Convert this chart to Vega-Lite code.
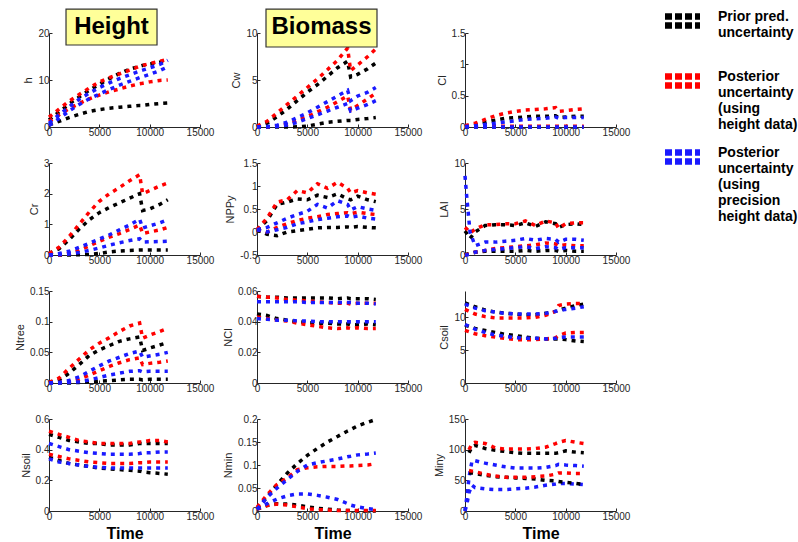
{
"$schema":"https://vega.github.io/schema/vega-lite/v6.json",
"padding":{"left":14,"top":1,"right":5,"bottom":5},
"background":"white",
"datasets":{"series":[{"key":"ku","s":"A"},{"key":"kl","s":"A"},{"key":"ru","s":"B"},{"key":"rl","s":"B"},{"key":"bu","s":"C"},{"key":"bl","s":"C"}]},
"data":{"values":[
{"p":"h","t":0,"ku":1.5,"kl":0.4,"ru":2.1,"rl":1.2,"bu":0.8,"bl":0.3},
{"p":"h","t":1000,"ku":3.2,"kl":1.2,"ru":3.8,"rl":2.6,"bu":2.6,"bl":1.8},
{"p":"h","t":2000,"ku":4.9,"kl":2.0,"ru":5.5,"rl":3.9,"bu":4.3,"bl":3.4},
{"p":"h","t":3000,"ku":6.4,"kl":2.7,"ru":6.9,"rl":5.0,"bu":5.9,"bl":4.8},
{"p":"h","t":4000,"ku":7.8,"kl":3.3,"ru":8.3,"rl":6.0,"bu":7.2,"bl":6.0},
{"p":"h","t":5000,"ku":9.1,"kl":3.7,"ru":9.6,"rl":6.8,"bu":8.4,"bl":7.0},
{"p":"h","t":6000,"ku":10.3,"kl":4.0,"ru":10.5,"rl":7.5,"bu":9.4,"bl":8.0},
{"p":"h","t":7000,"ku":11.4,"kl":4.2,"ru":11.3,"rl":8.1,"bu":10.3,"bl":8.9},
{"p":"h","t":8000,"ku":12.3,"kl":4.4,"ru":12.1,"rl":8.7,"bu":11.1,"bl":9.7},
{"p":"h","t":9000,"ku":12.9,"kl":4.6,"ru":12.9,"rl":9.2,"bu":11.9,"bl":10.5},
{"p":"h","t":9300,"ku":13.1,"kl":4.6,"ru":13.1,"rl":9.3,"bu":12.1,"bl":10.7},
{"p":"h","t":10000,"ku":13.4,"kl":4.8,"ru":13.5,"rl":9.6,"bu":12.6,"bl":11.2},
{"p":"h","t":11000,"ku":13.8,"kl":5.0,"ru":14.0,"rl":9.9,"bu":13.3,"bl":12.0},
{"p":"h","t":11800,"ku":14.1,"kl":5.1,"ru":14.4,"rl":10.0,"bu":14.2,"bl":12.8},
{"p":"Cw","t":0,"ku":0,"kl":0,"ru":0.1,"rl":0,"bu":0,"bl":0},
{"p":"Cw","t":1000,"ku":0.4,"kl":0,"ru":0.6,"rl":0,"bu":0.05,"bl":0},
{"p":"Cw","t":2000,"ku":1.1,"kl":0,"ru":1.5,"rl":0.1,"bu":0.2,"bl":0.05},
{"p":"Cw","t":3000,"ku":1.9,"kl":0,"ru":2.4,"rl":0.3,"bu":0.5,"bl":0.2},
{"p":"Cw","t":4000,"ku":2.8,"kl":0.02,"ru":3.3,"rl":0.7,"bu":1.0,"bl":0.5},
{"p":"Cw","t":5000,"ku":3.7,"kl":0.1,"ru":4.2,"rl":1.1,"bu":1.5,"bl":0.9},
{"p":"Cw","t":6000,"ku":4.5,"kl":0.3,"ru":5.1,"rl":1.6,"bu":2.1,"bl":1.3},
{"p":"Cw","t":7000,"ku":5.4,"kl":0.5,"ru":6.1,"rl":2.1,"bu":2.7,"bl":1.7},
{"p":"Cw","t":8000,"ku":6.3,"kl":0.6,"ru":7.1,"rl":2.7,"bu":3.3,"bl":2.1},
{"p":"Cw","t":9000,"ku":7.0,"kl":0.7,"ru":8.4,"rl":3.3,"bu":3.9,"bl":2.5},
{"p":"Cw","t":9300,"ku":5.3,"kl":0.7,"ru":6.0,"rl":1.8,"bu":2.8,"bl":1.7},
{"p":"Cw","t":10000,"ku":5.6,"kl":0.8,"ru":6.6,"rl":2.3,"bu":3.3,"bl":2.0},
{"p":"Cw","t":11000,"ku":6.2,"kl":0.9,"ru":7.5,"rl":3.0,"bu":3.7,"bl":2.4},
{"p":"Cw","t":11800,"ku":6.8,"kl":1.0,"ru":8.3,"rl":3.6,"bu":4.2,"bl":2.8},
{"p":"Cl","t":0,"ku":0.01,"kl":0,"ru":0.02,"rl":0.01,"bu":0.01,"bl":0},
{"p":"Cl","t":1000,"ku":0.03,"kl":0,"ru":0.06,"rl":0.01,"bu":0.02,"bl":0},
{"p":"Cl","t":2000,"ku":0.07,"kl":0,"ru":0.12,"rl":0.01,"bu":0.04,"bl":0},
{"p":"Cl","t":3000,"ku":0.11,"kl":0,"ru":0.18,"rl":0.01,"bu":0.06,"bl":0},
{"p":"Cl","t":4000,"ku":0.14,"kl":0,"ru":0.22,"rl":0.01,"bu":0.08,"bl":0},
{"p":"Cl","t":5000,"ku":0.15,"kl":0,"ru":0.25,"rl":0.01,"bu":0.1,"bl":0},
{"p":"Cl","t":6000,"ku":0.16,"kl":0,"ru":0.27,"rl":0.01,"bu":0.12,"bl":0},
{"p":"Cl","t":7000,"ku":0.17,"kl":0,"ru":0.28,"rl":0.01,"bu":0.13,"bl":0},
{"p":"Cl","t":8000,"ku":0.17,"kl":0,"ru":0.29,"rl":0.01,"bu":0.14,"bl":0},
{"p":"Cl","t":9000,"ku":0.18,"kl":0,"ru":0.31,"rl":0.01,"bu":0.16,"bl":0},
{"p":"Cl","t":9300,"ku":0.15,"kl":0,"ru":0.25,"rl":0.01,"bu":0.14,"bl":0},
{"p":"Cl","t":10000,"ku":0.16,"kl":0,"ru":0.26,"rl":0.01,"bu":0.15,"bl":0},
{"p":"Cl","t":11000,"ku":0.17,"kl":0,"ru":0.28,"rl":0.01,"bu":0.15,"bl":0},
{"p":"Cl","t":11800,"ku":0.17,"kl":0,"ru":0.29,"rl":0.01,"bu":0.15,"bl":0},
{"p":"Cr","t":0,"ku":0.05,"kl":0,"ru":0.05,"rl":0,"bu":0,"bl":0},
{"p":"Cr","t":1000,"ku":0.2,"kl":0,"ru":0.25,"rl":0,"bu":0.05,"bl":0.01},
{"p":"Cr","t":2000,"ku":0.5,"kl":0,"ru":0.6,"rl":0.05,"bu":0.12,"bl":0.03},
{"p":"Cr","t":3000,"ku":0.85,"kl":0.01,"ru":1.0,"rl":0.15,"bu":0.25,"bl":0.08},
{"p":"Cr","t":4000,"ku":1.15,"kl":0.02,"ru":1.4,"rl":0.3,"bu":0.38,"bl":0.15},
{"p":"Cr","t":5000,"ku":1.38,"kl":0.05,"ru":1.75,"rl":0.45,"bu":0.52,"bl":0.23},
{"p":"Cr","t":6000,"ku":1.55,"kl":0.1,"ru":2.0,"rl":0.58,"bu":0.66,"bl":0.32},
{"p":"Cr","t":7000,"ku":1.7,"kl":0.13,"ru":2.2,"rl":0.7,"bu":0.82,"bl":0.4},
{"p":"Cr","t":8000,"ku":1.85,"kl":0.15,"ru":2.42,"rl":0.83,"bu":0.98,"bl":0.47},
{"p":"Cr","t":9000,"ku":2.0,"kl":0.16,"ru":2.62,"rl":0.98,"bu":1.17,"bl":0.53},
{"p":"Cr","t":9300,"ku":1.45,"kl":0.16,"ru":2.0,"rl":0.7,"bu":0.88,"bl":0.42},
{"p":"Cr","t":10000,"ku":1.5,"kl":0.16,"ru":2.1,"rl":0.75,"bu":0.95,"bl":0.43},
{"p":"Cr","t":11000,"ku":1.65,"kl":0.16,"ru":2.25,"rl":0.82,"bu":1.05,"bl":0.44},
{"p":"Cr","t":11800,"ku":1.8,"kl":0.16,"ru":2.35,"rl":0.9,"bu":1.15,"bl":0.45},
{"p":"NPPy","t":0,"ku":0.05,"kl":0.05,"ru":0.05,"rl":0.05,"bu":0.05,"bl":0.05},
{"p":"NPPy","t":1000,"ku":0.25,"kl":-0.05,"ru":0.3,"rl":0.0,"bu":0.1,"bl":0.0},
{"p":"NPPy","t":2000,"ku":0.6,"kl":-0.08,"ru":0.65,"rl":0.1,"bu":0.2,"bl":0.05},
{"p":"NPPy","t":3000,"ku":0.65,"kl":0.0,"ru":0.7,"rl":0.18,"bu":0.3,"bl":0.1},
{"p":"NPPy","t":4000,"ku":0.72,"kl":0.03,"ru":0.9,"rl":0.25,"bu":0.38,"bl":0.18},
{"p":"NPPy","t":5000,"ku":0.7,"kl":0.06,"ru":0.85,"rl":0.3,"bu":0.45,"bl":0.22},
{"p":"NPPy","t":6000,"ku":0.8,"kl":0.09,"ru":1.05,"rl":0.33,"bu":0.6,"bl":0.27},
{"p":"NPPy","t":7000,"ku":0.75,"kl":0.1,"ru":0.95,"rl":0.38,"bu":0.52,"bl":0.3},
{"p":"NPPy","t":8000,"ku":0.83,"kl":0.1,"ru":1.08,"rl":0.4,"bu":0.68,"bl":0.33},
{"p":"NPPy","t":9000,"ku":0.72,"kl":0.11,"ru":0.95,"rl":0.42,"bu":0.6,"bl":0.35},
{"p":"NPPy","t":9300,"ku":0.7,"kl":0.1,"ru":0.85,"rl":0.4,"bu":0.48,"bl":0.32},
{"p":"NPPy","t":10000,"ku":0.78,"kl":0.12,"ru":0.9,"rl":0.43,"bu":0.55,"bl":0.35},
{"p":"NPPy","t":11000,"ku":0.7,"kl":0.1,"ru":0.85,"rl":0.4,"bu":0.5,"bl":0.3},
{"p":"NPPy","t":11800,"ku":0.66,"kl":0.09,"ru":0.82,"rl":0.38,"bu":0.47,"bl":0.28},
{"p":"LAI","t":0,"ku":2.6,"kl":0,"ru":3.0,"rl":0,"bu":8.6,"bl":0},
{"p":"LAI","t":200,"ku":2.3,"kl":0.1,"ru":2.8,"rl":0.05,"bu":6.0,"bl":0},
{"p":"LAI","t":500,"ku":1.8,"kl":0.2,"ru":2.4,"rl":0.1,"bu":2.5,"bl":0.1},
{"p":"LAI","t":1000,"ku":2.5,"kl":0.3,"ru":2.8,"rl":0.3,"bu":1.0,"bl":0.3},
{"p":"LAI","t":2000,"ku":3.2,"kl":0.4,"ru":3.3,"rl":0.5,"bu":1.4,"bl":0.5},
{"p":"LAI","t":3000,"ku":3.3,"kl":0.4,"ru":3.3,"rl":0.7,"bu":1.4,"bl":0.6},
{"p":"LAI","t":4000,"ku":3.3,"kl":0.4,"ru":3.4,"rl":0.8,"bu":1.5,"bl":0.7},
{"p":"LAI","t":5000,"ku":3.2,"kl":0.4,"ru":3.4,"rl":0.9,"bu":1.6,"bl":0.8},
{"p":"LAI","t":6000,"ku":3.5,"kl":0.5,"ru":3.7,"rl":1.0,"bu":1.8,"bl":0.9},
{"p":"LAI","t":7000,"ku":3.1,"kl":0.4,"ru":3.2,"rl":1.1,"bu":1.6,"bl":0.7},
{"p":"LAI","t":8000,"ku":3.6,"kl":0.5,"ru":3.7,"rl":1.3,"bu":1.8,"bl":0.9},
{"p":"LAI","t":9000,"ku":3.4,"kl":0.5,"ru":3.5,"rl":1.2,"bu":1.7,"bl":0.8},
{"p":"LAI","t":9300,"ku":3.0,"kl":0.4,"ru":2.9,"rl":1.0,"bu":1.4,"bl":0.6},
{"p":"LAI","t":10000,"ku":3.3,"kl":0.5,"ru":3.4,"rl":1.1,"bu":1.7,"bl":0.8},
{"p":"LAI","t":11000,"ku":3.4,"kl":0.4,"ru":3.5,"rl":1.0,"bu":1.7,"bl":0.8},
{"p":"LAI","t":11800,"ku":3.3,"kl":0.4,"ru":3.5,"rl":1.0,"bu":1.6,"bl":0.8},
{"p":"Ntree","t":0,"ku":0.001,"kl":0,"ru":0.001,"rl":0,"bu":0,"bl":0},
{"p":"Ntree","t":1000,"ku":0.005,"kl":0,"ru":0.008,"rl":0.001,"bu":0.001,"bl":0},
{"p":"Ntree","t":2000,"ku":0.016,"kl":0,"ru":0.024,"rl":0.002,"bu":0.004,"bl":0.001},
{"p":"Ntree","t":3000,"ku":0.03,"kl":0.001,"ru":0.039,"rl":0.006,"bu":0.01,"bl":0.002},
{"p":"Ntree","t":4000,"ku":0.045,"kl":0.002,"ru":0.054,"rl":0.013,"bu":0.019,"bl":0.005},
{"p":"Ntree","t":5000,"ku":0.054,"kl":0.003,"ru":0.065,"rl":0.02,"bu":0.028,"bl":0.009},
{"p":"Ntree","t":6000,"ku":0.061,"kl":0.004,"ru":0.074,"rl":0.027,"bu":0.036,"bl":0.013},
{"p":"Ntree","t":7000,"ku":0.068,"kl":0.005,"ru":0.084,"rl":0.033,"bu":0.042,"bl":0.016},
{"p":"Ntree","t":8000,"ku":0.072,"kl":0.006,"ru":0.093,"rl":0.038,"bu":0.048,"bl":0.019},
{"p":"Ntree","t":9000,"ku":0.075,"kl":0.006,"ru":0.098,"rl":0.041,"bu":0.052,"bl":0.02},
{"p":"Ntree","t":9300,"ku":0.053,"kl":0.005,"ru":0.073,"rl":0.03,"bu":0.042,"bl":0.018},
{"p":"Ntree","t":10000,"ku":0.057,"kl":0.006,"ru":0.078,"rl":0.032,"bu":0.044,"bl":0.019},
{"p":"Ntree","t":11000,"ku":0.062,"kl":0.006,"ru":0.084,"rl":0.034,"bu":0.047,"bl":0.019},
{"p":"Ntree","t":11800,"ku":0.066,"kl":0.006,"ru":0.089,"rl":0.036,"bu":0.05,"bl":0.019},
{"p":"NCl","t":0,"ku":0.0565,"kl":0.045,"ru":0.0565,"rl":0.043,"bu":0.053,"bl":0.042},
{"p":"NCl","t":1000,"ku":0.056,"kl":0.044,"ru":0.056,"rl":0.042,"bu":0.053,"bl":0.0415},
{"p":"NCl","t":2000,"ku":0.056,"kl":0.042,"ru":0.0555,"rl":0.041,"bu":0.053,"bl":0.041},
{"p":"NCl","t":3000,"ku":0.0555,"kl":0.041,"ru":0.0545,"rl":0.0405,"bu":0.053,"bl":0.041},
{"p":"NCl","t":4000,"ku":0.0555,"kl":0.040,"ru":0.054,"rl":0.039,"bu":0.053,"bl":0.0405},
{"p":"NCl","t":5000,"ku":0.0555,"kl":0.0395,"ru":0.0535,"rl":0.038,"bu":0.0525,"bl":0.0405},
{"p":"NCl","t":6000,"ku":0.0555,"kl":0.039,"ru":0.053,"rl":0.037,"bu":0.0525,"bl":0.040},
{"p":"NCl","t":7000,"ku":0.0555,"kl":0.039,"ru":0.0525,"rl":0.036,"bu":0.0525,"bl":0.040},
{"p":"NCl","t":8000,"ku":0.055,"kl":0.0385,"ru":0.052,"rl":0.0355,"bu":0.0525,"bl":0.040},
{"p":"NCl","t":9000,"ku":0.0555,"kl":0.0385,"ru":0.052,"rl":0.036,"bu":0.0525,"bl":0.040},
{"p":"NCl","t":9300,"ku":0.055,"kl":0.038,"ru":0.0515,"rl":0.0355,"bu":0.0525,"bl":0.040},
{"p":"NCl","t":10000,"ku":0.055,"kl":0.038,"ru":0.052,"rl":0.036,"bu":0.052,"bl":0.040},
{"p":"NCl","t":11000,"ku":0.055,"kl":0.0385,"ru":0.052,"rl":0.0355,"bu":0.052,"bl":0.040},
{"p":"NCl","t":11800,"ku":0.0545,"kl":0.038,"ru":0.052,"rl":0.0355,"bu":0.0515,"bl":0.040},
{"p":"Csoil","t":0,"ku":12.2,"kl":8.8,"ru":11.2,"rl":8.0,"bu":12.0,"bl":8.9},
{"p":"Csoil","t":1000,"ku":11.6,"kl":8.3,"ru":10.5,"rl":7.5,"bu":11.4,"bl":8.2},
{"p":"Csoil","t":2000,"ku":11.1,"kl":8.0,"ru":10.1,"rl":7.2,"bu":11.0,"bl":7.7},
{"p":"Csoil","t":3000,"ku":10.8,"kl":7.7,"ru":9.9,"rl":7.0,"bu":10.8,"bl":7.3},
{"p":"Csoil","t":4000,"ku":10.6,"kl":7.4,"ru":9.9,"rl":6.8,"bu":10.6,"bl":7.1},
{"p":"Csoil","t":5000,"ku":10.5,"kl":7.2,"ru":9.9,"rl":6.6,"bu":10.5,"bl":6.9},
{"p":"Csoil","t":6000,"ku":10.4,"kl":7.0,"ru":9.9,"rl":6.6,"bu":10.5,"bl":6.8},
{"p":"Csoil","t":7000,"ku":10.4,"kl":6.8,"ru":10.0,"rl":6.6,"bu":10.5,"bl":6.8},
{"p":"Csoil","t":8000,"ku":10.6,"kl":6.7,"ru":10.3,"rl":6.7,"bu":10.6,"bl":6.7},
{"p":"Csoil","t":9000,"ku":10.9,"kl":6.7,"ru":10.9,"rl":6.9,"bu":10.9,"bl":6.8},
{"p":"Csoil","t":9300,"ku":11.1,"kl":6.7,"ru":11.8,"rl":7.2,"bu":11.0,"bl":6.9},
{"p":"Csoil","t":10000,"ku":11.4,"kl":6.6,"ru":12.0,"rl":7.6,"bu":11.2,"bl":7.0},
{"p":"Csoil","t":11000,"ku":11.8,"kl":6.4,"ru":12.1,"rl":7.7,"bu":11.4,"bl":7.0},
{"p":"Csoil","t":11800,"ku":12.0,"kl":6.3,"ru":12.1,"rl":7.7,"bu":11.6,"bl":7.0},
{"p":"Nsoil","t":0,"ku":0.50,"kl":0.35,"ru":0.52,"rl":0.37,"bu":0.44,"bl":0.34},
{"p":"Nsoil","t":1000,"ku":0.48,"kl":0.33,"ru":0.50,"rl":0.355,"bu":0.42,"bl":0.32},
{"p":"Nsoil","t":2000,"ku":0.46,"kl":0.31,"ru":0.48,"rl":0.34,"bu":0.40,"bl":0.31},
{"p":"Nsoil","t":3000,"ku":0.45,"kl":0.30,"ru":0.46,"rl":0.33,"bu":0.39,"bl":0.30},
{"p":"Nsoil","t":4000,"ku":0.44,"kl":0.29,"ru":0.45,"rl":0.32,"bu":0.38,"bl":0.29},
{"p":"Nsoil","t":5000,"ku":0.44,"kl":0.28,"ru":0.44,"rl":0.315,"bu":0.375,"bl":0.285},
{"p":"Nsoil","t":6000,"ku":0.43,"kl":0.275,"ru":0.44,"rl":0.31,"bu":0.37,"bl":0.28},
{"p":"Nsoil","t":7000,"ku":0.43,"kl":0.27,"ru":0.44,"rl":0.31,"bu":0.37,"bl":0.28},
{"p":"Nsoil","t":8000,"ku":0.43,"kl":0.265,"ru":0.44,"rl":0.31,"bu":0.37,"bl":0.28},
{"p":"Nsoil","t":9000,"ku":0.44,"kl":0.26,"ru":0.45,"rl":0.315,"bu":0.375,"bl":0.28},
{"p":"Nsoil","t":9300,"ku":0.44,"kl":0.255,"ru":0.45,"rl":0.315,"bu":0.38,"bl":0.28},
{"p":"Nsoil","t":10000,"ku":0.44,"kl":0.25,"ru":0.46,"rl":0.32,"bu":0.38,"bl":0.28},
{"p":"Nsoil","t":11000,"ku":0.44,"kl":0.245,"ru":0.46,"rl":0.32,"bu":0.385,"bl":0.28},
{"p":"Nsoil","t":11800,"ku":0.44,"kl":0.24,"ru":0.45,"rl":0.32,"bu":0.385,"bl":0.28},
{"p":"Nmin","t":0,"ku":0.005,"kl":0.004,"ru":0.008,"rl":0.004,"bu":0.004,"bl":0.004},
{"p":"Nmin","t":1000,"ku":0.03,"kl":0.012,"ru":0.035,"rl":0.012,"bu":0.03,"bl":0.016},
{"p":"Nmin","t":2000,"ku":0.058,"kl":0.016,"ru":0.058,"rl":0.015,"bu":0.05,"bl":0.026},
{"p":"Nmin","t":3000,"ku":0.082,"kl":0.015,"ru":0.072,"rl":0.013,"bu":0.068,"bl":0.033},
{"p":"Nmin","t":4000,"ku":0.103,"kl":0.013,"ru":0.09,"rl":0.009,"bu":0.086,"bl":0.037},
{"p":"Nmin","t":5000,"ku":0.121,"kl":0.009,"ru":0.094,"rl":0.005,"bu":0.1,"bl":0.037},
{"p":"Nmin","t":6000,"ku":0.136,"kl":0.006,"ru":0.096,"rl":0.003,"bu":0.105,"bl":0.034},
{"p":"Nmin","t":7000,"ku":0.15,"kl":0.004,"ru":0.097,"rl":0.002,"bu":0.109,"bl":0.03},
{"p":"Nmin","t":8000,"ku":0.162,"kl":0.002,"ru":0.097,"rl":0.001,"bu":0.113,"bl":0.025},
{"p":"Nmin","t":9000,"ku":0.174,"kl":0.001,"ru":0.098,"rl":0.001,"bu":0.118,"bl":0.016},
{"p":"Nmin","t":9300,"ku":0.177,"kl":0.001,"ru":0.098,"rl":0.001,"bu":0.119,"bl":0.013},
{"p":"Nmin","t":10000,"ku":0.185,"kl":0,"ru":0.099,"rl":0.001,"bu":0.122,"bl":0.009},
{"p":"Nmin","t":11000,"ku":0.193,"kl":0,"ru":0.1,"rl":0.001,"bu":0.124,"bl":0.005},
{"p":"Nmin","t":11800,"ku":0.199,"kl":0,"ru":0.103,"rl":0.001,"bu":0.126,"bl":0.003},
{"p":"Miny","t":0,"bu":0,"bl":0},
{"p":"Miny","t":200,"bu":25,"bl":12},
{"p":"Miny","t":400,"ku":95,"kl":62,"ru":100,"rl":66,"bu":55,"bl":30},
{"p":"Miny","t":700,"ku":105,"kl":62,"ru":110,"rl":65,"bu":82,"bl":42},
{"p":"Miny","t":1000,"ku":107,"kl":61,"ru":112,"rl":64,"bu":82,"bl":38},
{"p":"Miny","t":2000,"ku":102,"kl":58,"ru":110,"rl":60,"bu":78,"bl":36},
{"p":"Miny","t":3000,"ku":99,"kl":56,"ru":103,"rl":57,"bu":75,"bl":35},
{"p":"Miny","t":4000,"ku":97,"kl":55,"ru":101,"rl":55,"bu":72,"bl":35},
{"p":"Miny","t":5000,"ku":95,"kl":54,"ru":101,"rl":55,"bu":70,"bl":36},
{"p":"Miny","t":6000,"ku":94,"kl":53,"ru":101,"rl":55,"bu":70,"bl":37},
{"p":"Miny","t":7000,"ku":94,"kl":52,"ru":102,"rl":56,"bu":70,"bl":39},
{"p":"Miny","t":8000,"ku":94,"kl":50,"ru":104,"rl":57,"bu":71,"bl":42},
{"p":"Miny","t":9000,"ku":94,"kl":49,"ru":110,"rl":60,"bu":74,"bl":44},
{"p":"Miny","t":9300,"ku":95,"kl":48,"ru":112,"rl":62,"bu":76,"bl":45},
{"p":"Miny","t":10000,"ku":98,"kl":47,"ru":115,"rl":62,"bu":75,"bl":45},
{"p":"Miny","t":11000,"ku":96,"kl":45,"ru":112,"rl":61,"bu":74,"bl":44},
{"p":"Miny","t":11800,"ku":95,"kl":43,"ru":110,"rl":61,"bu":73,"bl":43}
]},
"columns":3,
"spacing":{"row":36,"column":57},
"bounds":"flush",
"concat":[
{"width":151,"height":94,"layer":[
 {"transform":[{"filter":"datum.p=='h'"},{"fold":["ku","kl","ru","rl","bu","bl"]},{"filter":"isValid(datum.value)"},{"lookup":"key","from":{"data":{"name":"series"},"key":"key","fields":["s"]}}],
  "mark":{"type":"line","strokeWidth":3.5,"strokeDash":[4,5]},
  "encoding":{"x":{"field":"t","type":"quantitative","scale":{"domain":[0,15000],"nice":false},"axis":{"values":[0,5000,10000,15000],"format":"d","title":null}},
   "y":{"field":"value","type":"quantitative","scale":{"domain":[0,20],"nice":false},"axis":{"values":[0,5,10,15,20],"format":"~f","title":"h"}},
   "color":{"field":"s","type":"nominal","scale":{"domain":["A","B","C"],"range":["#000000","#ff0000","#1a1aff"]},
     "legend":{"title":null,"orient":"none","legendX":625,"legendY":-32,"labelExpr":"datum.value == 'A' ? ['Prior pred.', 'uncertainty', ''] : datum.value == 'B' ? ['Posterior', 'uncertainty', '(using', 'height data)'] : ['Posterior', 'uncertainty', '(using', 'precision', 'height data)']"}},
   "detail":{"field":"key"}}},
 {"data":{"values":[{}]},"mark":{"type":"rect","fill":"#ffff99","stroke":"#333333","strokeWidth":1.2},
  "encoding":{"x":{"datum":1690,"type":"quantitative"},"x2":{"datum":10730},"y":{"datum":17.45,"type":"quantitative"},"y2":{"datum":25.1}}},
 {"data":{"values":[{}]},"mark":{"type":"text","text":"Height","fontSize":24,"fontWeight":"bold","font":"Liberation Sans","color":"#000000"},
  "encoding":{"x":{"datum":6210,"type":"quantitative"},"y":{"datum":21.3,"type":"quantitative"}}}
]},
{"width":151,"height":94,"layer":[
 {"transform":[{"filter":"datum.p=='Cw'"},{"fold":["ku","kl","ru","rl","bu","bl"]},{"filter":"isValid(datum.value)"},{"lookup":"key","from":{"data":{"name":"series"},"key":"key","fields":["s"]}}],
  "mark":{"type":"line","strokeWidth":3.5,"strokeDash":[4,5]},
  "encoding":{"x":{"field":"t","type":"quantitative","scale":{"domain":[0,15000],"nice":false},"axis":{"values":[0,5000,10000,15000],"format":"d","title":null}},
   "y":{"field":"value","type":"quantitative","scale":{"domain":[0,10],"nice":false},"axis":{"values":[0,5,10],"format":"~f","title":"Cw"}},
   "color":{"field":"s","type":"nominal","scale":{"domain":["A","B","C"],"range":["#000000","#ff0000","#1a1aff"]}},
   "detail":{"field":"key"}}},
 {"data":{"values":[{}]},"mark":{"type":"rect","fill":"#ffff99","stroke":"#333333","strokeWidth":1.2},
  "encoding":{"x":{"datum":894,"type":"quantitative"},"x2":{"datum":11920},"y":{"datum":8.51,"type":"quantitative"},"y2":{"datum":12.55}}},
 {"data":{"values":[{}]},"mark":{"type":"text","text":"Biomass","fontSize":24,"fontWeight":"bold","font":"Liberation Sans","color":"#000000"},
  "encoding":{"x":{"datum":6407,"type":"quantitative"},"y":{"datum":10.6,"type":"quantitative"}}}
]},
{"width":151,"height":94,
 "transform":[{"filter":"datum.p=='Cl'"},{"fold":["ku","kl","ru","rl","bu","bl"]},{"filter":"isValid(datum.value)"},{"lookup":"key","from":{"data":{"name":"series"},"key":"key","fields":["s"]}}],
 "mark":{"type":"line","strokeWidth":3.5,"strokeDash":[4,5]},
 "encoding":{"x":{"field":"t","type":"quantitative","scale":{"domain":[0,15000],"nice":false},"axis":{"values":[0,5000,10000,15000],"format":"d","title":null}},
  "y":{"field":"value","type":"quantitative","scale":{"domain":[0,1.5],"nice":false},"axis":{"values":[0,0.5,1,1.5],"format":"~f","title":"Cl"}},
  "color":{"field":"s","type":"nominal","scale":{"domain":["A","B","C"],"range":["#000000","#ff0000","#1a1aff"]}},
  "detail":{"field":"key"}}},
{"width":151,"height":92,
 "transform":[{"filter":"datum.p=='Cr'"},{"fold":["ku","kl","ru","rl","bu","bl"]},{"filter":"isValid(datum.value)"},{"lookup":"key","from":{"data":{"name":"series"},"key":"key","fields":["s"]}}],
 "mark":{"type":"line","strokeWidth":3.5,"strokeDash":[4,5]},
 "encoding":{"x":{"field":"t","type":"quantitative","scale":{"domain":[0,15000],"nice":false},"axis":{"values":[0,5000,10000,15000],"format":"d","title":null}},
  "y":{"field":"value","type":"quantitative","scale":{"domain":[0,3],"nice":false},"axis":{"values":[0,1,2,3],"format":"~f","title":"Cr"}},
  "color":{"field":"s","type":"nominal","scale":{"domain":["A","B","C"],"range":["#000000","#ff0000","#1a1aff"]}},
  "detail":{"field":"key"}}},
{"width":151,"height":92,
 "transform":[{"filter":"datum.p=='NPPy'"},{"fold":["ku","kl","ru","rl","bu","bl"]},{"filter":"isValid(datum.value)"},{"lookup":"key","from":{"data":{"name":"series"},"key":"key","fields":["s"]}}],
 "mark":{"type":"line","strokeWidth":3.5,"strokeDash":[4,5]},
 "encoding":{"x":{"field":"t","type":"quantitative","scale":{"domain":[0,15000],"nice":false},"axis":{"values":[0,5000,10000,15000],"format":"d","title":null}},
  "y":{"field":"value","type":"quantitative","scale":{"domain":[-0.5,1.5],"nice":false},"axis":{"values":[-0.5,0,0.5,1,1.5],"format":"~f","title":"NPPy","labelExpr":"replace(datum.label, '\u2212', '-')"}},
  "color":{"field":"s","type":"nominal","scale":{"domain":["A","B","C"],"range":["#000000","#ff0000","#1a1aff"]}},
  "detail":{"field":"key"}}},
{"width":151,"height":92,
 "transform":[{"filter":"datum.p=='LAI'"},{"fold":["ku","kl","ru","rl","bu","bl"]},{"filter":"isValid(datum.value)"},{"lookup":"key","from":{"data":{"name":"series"},"key":"key","fields":["s"]}}],
 "mark":{"type":"line","strokeWidth":3.5,"strokeDash":[4,5]},
 "encoding":{"x":{"field":"t","type":"quantitative","scale":{"domain":[0,15000],"nice":false},"axis":{"values":[0,5000,10000,15000],"format":"d","title":null}},
  "y":{"field":"value","type":"quantitative","scale":{"domain":[0,10],"nice":false},"axis":{"values":[0,5,10],"format":"~f","title":"LAI"}},
  "color":{"field":"s","type":"nominal","scale":{"domain":["A","B","C"],"range":["#000000","#ff0000","#1a1aff"]}},
  "detail":{"field":"key"}}},
{"width":151,"height":92,
 "transform":[{"filter":"datum.p=='Ntree'"},{"fold":["ku","kl","ru","rl","bu","bl"]},{"filter":"isValid(datum.value)"},{"lookup":"key","from":{"data":{"name":"series"},"key":"key","fields":["s"]}}],
 "mark":{"type":"line","strokeWidth":3.5,"strokeDash":[4,5]},
 "encoding":{"x":{"field":"t","type":"quantitative","scale":{"domain":[0,15000],"nice":false},"axis":{"values":[0,5000,10000,15000],"format":"d","title":null}},
  "y":{"field":"value","type":"quantitative","scale":{"domain":[0,0.15],"nice":false},"axis":{"values":[0,0.05,0.1,0.15],"format":"~f","title":"Ntree"}},
  "color":{"field":"s","type":"nominal","scale":{"domain":["A","B","C"],"range":["#000000","#ff0000","#1a1aff"]}},
  "detail":{"field":"key"}}},
{"width":151,"height":92,
 "transform":[{"filter":"datum.p=='NCl'"},{"fold":["ku","kl","ru","rl","bu","bl"]},{"filter":"isValid(datum.value)"},{"lookup":"key","from":{"data":{"name":"series"},"key":"key","fields":["s"]}}],
 "mark":{"type":"line","strokeWidth":3.5,"strokeDash":[4,5]},
 "encoding":{"x":{"field":"t","type":"quantitative","scale":{"domain":[0,15000],"nice":false},"axis":{"values":[0,5000,10000,15000],"format":"d","title":null}},
  "y":{"field":"value","type":"quantitative","scale":{"domain":[0,0.06],"nice":false},"axis":{"values":[0,0.02,0.04,0.06],"format":"~f","title":"NCl"}},
  "color":{"field":"s","type":"nominal","scale":{"domain":["A","B","C"],"range":["#000000","#ff0000","#1a1aff"]}},
  "detail":{"field":"key"}}},
{"width":151,"height":92,
 "transform":[{"filter":"datum.p=='Csoil'"},{"fold":["ku","kl","ru","rl","bu","bl"]},{"filter":"isValid(datum.value)"},{"lookup":"key","from":{"data":{"name":"series"},"key":"key","fields":["s"]}}],
 "mark":{"type":"line","strokeWidth":3.5,"strokeDash":[4,5]},
 "encoding":{"x":{"field":"t","type":"quantitative","scale":{"domain":[0,15000],"nice":false},"axis":{"values":[0,5000,10000,15000],"format":"d","title":null}},
  "y":{"field":"value","type":"quantitative","scale":{"domain":[0,14],"nice":false},"axis":{"values":[0,5,10],"format":"~f","title":"Csoil"}},
  "color":{"field":"s","type":"nominal","scale":{"domain":["A","B","C"],"range":["#000000","#ff0000","#1a1aff"]}},
  "detail":{"field":"key"}}},
{"width":151,"height":92,
 "transform":[{"filter":"datum.p=='Nsoil'"},{"fold":["ku","kl","ru","rl","bu","bl"]},{"filter":"isValid(datum.value)"},{"lookup":"key","from":{"data":{"name":"series"},"key":"key","fields":["s"]}}],
 "mark":{"type":"line","strokeWidth":3.5,"strokeDash":[4,5]},
 "encoding":{"x":{"field":"t","type":"quantitative","scale":{"domain":[0,15000],"nice":false},"axis":{"values":[0,5000,10000,15000],"format":"d","title":"Time","titleFontSize":16,"titleFontWeight":"bold","titleColor":"#000000"}},
  "y":{"field":"value","type":"quantitative","scale":{"domain":[0,0.6],"nice":false},"axis":{"values":[0,0.2,0.4,0.6],"format":"~f","title":"Nsoil"}},
  "color":{"field":"s","type":"nominal","scale":{"domain":["A","B","C"],"range":["#000000","#ff0000","#1a1aff"]}},
  "detail":{"field":"key"}}},
{"width":151,"height":92,
 "transform":[{"filter":"datum.p=='Nmin'"},{"fold":["ku","kl","ru","rl","bu","bl"]},{"filter":"isValid(datum.value)"},{"lookup":"key","from":{"data":{"name":"series"},"key":"key","fields":["s"]}}],
 "mark":{"type":"line","strokeWidth":3.5,"strokeDash":[4,5]},
 "encoding":{"x":{"field":"t","type":"quantitative","scale":{"domain":[0,15000],"nice":false},"axis":{"values":[0,5000,10000,15000],"format":"d","title":"Time","titleFontSize":16,"titleFontWeight":"bold","titleColor":"#000000"}},
  "y":{"field":"value","type":"quantitative","scale":{"domain":[0,0.2],"nice":false},"axis":{"values":[0,0.05,0.1,0.15,0.2],"format":"~f","title":"Nmin"}},
  "color":{"field":"s","type":"nominal","scale":{"domain":["A","B","C"],"range":["#000000","#ff0000","#1a1aff"]}},
  "detail":{"field":"key"}}},
{"width":151,"height":92,
 "transform":[{"filter":"datum.p=='Miny'"},{"fold":["ku","kl","ru","rl","bu","bl"]},{"filter":"isValid(datum.value)"},{"lookup":"key","from":{"data":{"name":"series"},"key":"key","fields":["s"]}}],
 "mark":{"type":"line","strokeWidth":3.5,"strokeDash":[4,5]},
 "encoding":{"x":{"field":"t","type":"quantitative","scale":{"domain":[0,15000],"nice":false},"axis":{"values":[0,5000,10000,15000],"format":"d","title":"Time","titleFontSize":16,"titleFontWeight":"bold","titleColor":"#000000"}},
  "y":{"field":"value","type":"quantitative","scale":{"domain":[0,150],"nice":false},"axis":{"values":[0,50,100,150],"format":"~f","title":"Miny"}},
  "color":{"field":"s","type":"nominal","scale":{"domain":["A","B","C"],"range":["#000000","#ff0000","#1a1aff"]}},
  "detail":{"field":"key"}}}
],
"config":{
 "font":"Liberation Sans",
 "view":{"stroke":null},
 "axis":{"grid":false,"domainColor":"#262626","tickColor":"#262626","labelColor":"#262626","labelFont":"Liberation Sans","labelFontSize":10,"titleFont":"Liberation Sans","titleFontSize":11,"titleFontWeight":"normal","titleColor":"#262626","tickSize":-3,"labelPadding":3,"labelFlush":false,"labelOverlap":false,"titlePadding":4},
 "legend":{"symbolType":"M-3.5,1.4H3.5M-3.5,3.2H3.5","symbolSize":100,"symbolStrokeWidth":6.5,"symbolDash":[7,3],"symbolFillColor":"transparent","labelFont":"Liberation Sans","labelFontSize":14,"labelFontWeight":"bold","labelColor":"#000000","labelOffset":27,"labelBaseline":"top","rowPadding":5,"labelLimit":300,"padding":0}
}
}
